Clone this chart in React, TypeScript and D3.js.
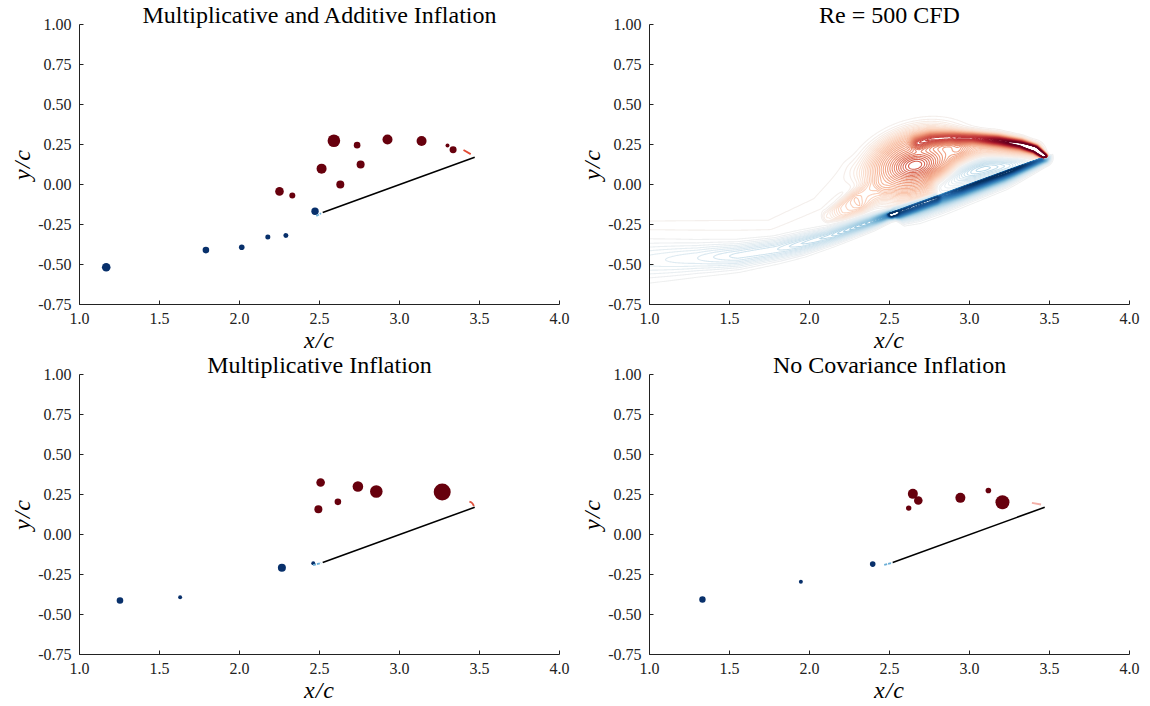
import React, { useMemo } from "react";
import * as d3 from "d3";

const W = 1150;
const H = 706;

// ---------- axes ----------
const xTicks = [1.0, 1.5, 2.0, 2.5, 3.0, 3.5, 4.0];
const yTicks = [1.0, 0.75, 0.5, 0.25, 0.0, -0.25, -0.5, -0.75];
const titles = [
  "Multiplicative and Additive Inflation",
  "Re = 500 CFD",
  "Multiplicative Inflation",
  "No Covariance Inflation",
];

// ---------- plate ----------
const plateX = [2.52, 3.47];
const plateY = [-0.175, 0.17];

// ---------- panel A: multiplicative + additive ----------
const aPosX = [2.59, 2.735, 2.925, 3.138, 3.3, 3.335, 2.513, 2.757, 2.63, 2.25, 2.33];
const aPosY = [0.273, 0.246, 0.281, 0.272, 0.244, 0.217, 0.099, 0.125, 0.0, -0.043, -0.068];
const aPosS = [0.49, 0.134, 0.309, 0.309, 0.049, 0.151, 0.309, 0.198, 0.198, 0.228, 0.111];
const aNegX = [2.472, 2.29, 2.177, 2.014, 1.79, 1.167];
const aNegY = [-0.167, -0.318, -0.328, -0.392, -0.41, -0.517];
const aNegS = [0.169, 0.077, 0.077, 0.097, 0.134, 0.228];
const aLeSheetX = [2.48, 2.51];
const aLeSheetY = [-0.197, -0.18];
const aTeSheetX = [3.4, 3.445];
const aTeSheetY = [0.216, 0.19];

// ---------- panel C: multiplicative ----------
const cPosX = [2.507, 2.74, 2.855, 3.267, 2.615, 2.493];
const cPosY = [0.325, 0.3, 0.269, 0.265, 0.204, 0.158];
const cPosS = [0.228, 0.347, 0.49, 0.892, 0.134, 0.198];
const cNegX = [2.265, 2.461, 1.629, 1.253];
const cNegY = [-0.208, -0.179, -0.392, -0.4125];
const cNegS = [0.198, 0.049, 0.049, 0.134];
const cLeSheetX = [2.46, 2.51];
const cLeSheetY = [-0.192, -0.178];
const cTeSheetX = [3.437, 3.455, 3.465];
const cTeSheetY = [0.206, 0.195, 0.178];

// ---------- panel D: no inflation ----------
const dPosX = [2.646, 2.68, 2.62, 2.943, 3.118, 3.206];
const dPosY = [0.254, 0.2125, 0.165, 0.229, 0.275, 0.202];
const dPosS = [0.309, 0.228, 0.09, 0.309, 0.097, 0.605];
const dNegX = [2.395, 1.946, 1.331];
const dNegY = [-0.185, -0.296, -0.406];
const dNegS = [0.097, 0.049, 0.126];
const dLeSheetX = [2.467, 2.517];
const dLeSheetY = [-0.19, -0.177];
const dTeSheetX = [3.39, 3.447];
const dTeSheetY = [0.198, 0.1875];

// ---------- CFD vorticity features ----------
// trailing-edge shear layer (positive)
const shearX = [3.47, 3.41, 3.32, 3.18, 3.02, 2.88, 2.76, 2.68];
const shearY = [0.176, 0.222, 0.252, 0.276, 0.292, 0.296, 0.288, 0.265];
const shearAmp = [1.7, 1.25, 0.95, 0.8, 0.6, 0.45, 0.36, 0.28];
const shearWid = [0.014, 0.022, 0.028, 0.032, 0.034, 0.036, 0.038, 0.04];
// lower flank of the shear layer (positive)
const flankX = [3.4, 3.15, 2.95];
const flankY = [0.2, 0.232, 0.225];
const flankAmp = [0.28, 0.25, 0.18];
const flankWid = [0.05, 0.065, 0.07];
// shed vortex: broad halo and concentrated core (positive)
const coreX = [2.66, 2.66];
const coreY = [0.13, 0.12];
const coreAmp = [0.42, 0.2];
const coreSx = [0.33, 0.13];
const coreSy = [0.21, 0.075];
const coreAng = [18, 12];
const corePow = [2.0, 1.0];
// vortex tail towards the lower left (positive)
const tailX = [2.42, 2.3, 2.2, 2.12];
const tailY = [-0.04, -0.11, -0.165, -0.2];
const tailAmp = [0.05, 0.26, 0.2, 0.08];
const tailWid = [0.07, 0.07, 0.055, 0.04];
// faint upstream band (positive)
const bandX = [0.9, 1.75, 2.05, 2.25];
const bandY = [-0.26, -0.255, -0.12, 0.08];
const bandAmp = [0.03, 0.03, 0.03, 0.03];
const bandWid = [0.05, 0.05, 0.06, 0.08];
// plate boundary layer, below the plate (negative)
const sheetX = [2.522, 2.56, 2.65, 2.8, 2.95, 3.2, 3.465];
const sheetY = [-0.175, -0.162, -0.129, -0.075, -0.02, 0.071, 0.168];
const sheetAmp = [-1.15, -0.7, -0.68, -0.74, -0.93, -0.92, -0.88];
const sheetWid = [0.025, 0.055, 0.065, 0.065, 0.06, 0.055, 0.03];
// leading-edge vortex (negative)
const leX = [2.54, 2.78];
const leY = [-0.17, -0.085];
const leAmp = [-0.3, -0.26];
const leWid = [0.045, 0.04];
// region above the plate (negative)
const aboveX = [2.82, 2.95, 3.1, 3.25, 3.38];
const aboveY = [0.0, 0.07, 0.105, 0.125, 0.16];
const aboveAmp = [-0.24, -0.3, -0.28, -0.22, -0.1];
const aboveWid = [0.06, 0.07, 0.07, 0.06, 0.04];
// leading-edge wake (negative)
const wakeX = [2.5, 2.38, 2.25, 2.12, 1.95, 1.8, 1.55, 1.3, 0.9];
const wakeY = [-0.19, -0.235, -0.28, -0.325, -0.37, -0.405, -0.445, -0.46, -0.48];
const wakeAmp = [-0.7, -0.42, -0.34, -0.27, -0.24, -0.2, -0.19, -0.14, -0.1];
const wakeWid = [0.025, 0.035, 0.04, 0.045, 0.055, 0.06, 0.07, 0.085, 0.115];

const levelStep = 0.02;
const levelCount = 50;

// ---------- layout ----------
const colX = [79.5, 649.5];
const rowY = [24.5, 374.5];
const plotW = 480;
const plotH = 280;
const serif = "'Liberation Serif', 'Times New Roman', serif";

type Poly = { xs: number[]; ys: number[]; amp: number[]; wid: number[]; up: number; pw: number };

function polyValue(p: Poly, x: number, y: number) {
  let best = Infinity, ba = 0, bw = 1, side = 0;
  for (let k = 0; k < p.xs.length - 1; k++) {
    const x1 = p.xs[k], y1 = p.ys[k], x2 = p.xs[k + 1], y2 = p.ys[k + 1];
    const dx = x2 - x1, dy = y2 - y1;
    const L2 = dx * dx + dy * dy;
    let t = ((x - x1) * dx + (y - y1) * dy) / L2;
    t = t < 0 ? 0 : t > 1 ? 1 : t;
    const px = x1 + t * dx - x, py = y1 + t * dy - y;
    const d2 = px * px + py * py;
    if (d2 < best) {
      best = d2;
      ba = p.amp[k] + t * (p.amp[k + 1] - p.amp[k]);
      bw = p.wid[k] + t * (p.wid[k + 1] - p.wid[k]);
      side = dx * (y - y1) - dy * (x - x1);
    }
  }
  if (side > 0) bw *= p.up;
  const q = best / (bw * bw);
  return ba * Math.exp(-Math.pow(q, p.pw));
}

const polys: Poly[] = [
  { xs: shearX, ys: shearY, amp: shearAmp, wid: shearWid, up: 1, pw: 1 },
  { xs: flankX, ys: flankY, amp: flankAmp, wid: flankWid, up: 1, pw: 1 },
  { xs: tailX, ys: tailY, amp: tailAmp, wid: tailWid, up: 1, pw: 1.8 },
  { xs: bandX, ys: bandY, amp: bandAmp, wid: bandWid, up: 1, pw: 1 },
  { xs: sheetX, ys: sheetY, amp: sheetAmp, wid: sheetWid, up: 0.04, pw: 1 },
  { xs: leX, ys: leY, amp: leAmp, wid: leWid, up: 0.7, pw: 2 },
  { xs: aboveX, ys: aboveY, amp: aboveAmp, wid: aboveWid, up: 1, pw: 1 },
  { xs: wakeX, ys: wakeY, amp: wakeAmp, wid: wakeWid, up: 1, pw: 1 },
];

function field(x: number, y: number) {
  let v = 0;
  for (const p of polys) v += polyValue(p, x, y);
  for (let i = 0; i < coreX.length; i++) {
    const a = (coreAng[i] * Math.PI) / 180;
    const c = Math.cos(a), s = Math.sin(a);
    const dx = x - coreX[i], dy = y - coreY[i];
    const u = dx * c + dy * s, w = -dx * s + dy * c;
    const q = (u * u) / (coreSx[i] * coreSx[i]) + (w * w) / (coreSy[i] * coreSy[i]);
    v += coreAmp[i] * Math.exp(-Math.pow(q, corePow[i]));
  }
  return v;
}

function makeScales(col: number, row: number) {
  const x = d3.scaleLinear().domain([1, 4]).range([colX[col], colX[col] + plotW]);
  const y = d3.scaleLinear().domain([-0.75, 1]).range([rowY[row] + plotH, rowY[row]]);
  return { x, y };
}

function Axes({ col, row, title }: { col: number; row: number; title: string }) {
  const { x, y } = makeScales(col, row);
  const x0 = colX[col], y0 = rowY[row], yb = y0 + plotH;
  return (
    <g fontFamily={serif} fill="#222">
      <line x1={x0} x2={x0} y1={y0} y2={yb} stroke="#222" strokeWidth={1} />
      <line x1={x0} x2={x0 + plotW} y1={yb} y2={yb} stroke="#222" strokeWidth={1} />
      {xTicks.map((t) => (
        <g key={"x" + t}>
          <line x1={x(t)} x2={x(t)} y1={yb} y2={yb - 4} stroke="#222" />
          <text x={x(t)} y={yb + 14} textAnchor="middle" dominantBaseline="central" fontSize={16}>
            {t.toFixed(1)}
          </text>
        </g>
      ))}
      {yTicks.map((t) => (
        <g key={"y" + t}>
          <line x1={x0} x2={x0 + 4} y1={y(t)} y2={y(t)} stroke="#222" />
          <text x={x0 - 8} y={y(t)} textAnchor="end" dominantBaseline="central" fontSize={16}>
            {t.toFixed(2)}
          </text>
        </g>
      ))}
      <text x={x0 + plotW / 2} y={y0 - 2} textAnchor="middle" fontSize={24} fill="#000">
        {title}
      </text>
      <text x={x0 + plotW / 2} y={yb + 43} textAnchor="middle" fontSize={24} fontStyle="italic" fill="#000" letterSpacing={1}>
        x/c
      </text>
      <text
        transform={`translate(${x0 - 58},${y0 + plotH / 2}) rotate(-90)`}
        textAnchor="middle"
        dominantBaseline="central"
        fontSize={24}
        fontStyle="italic"
        fill="#000"
        letterSpacing={1}
      >
        y/c
      </text>
    </g>
  );
}

const posColor = "#67000d";
const negColor = "#08306b";
const rScale = d3.scaleSqrt().domain([0, 1]).range([0, 9]);

function Scatter(props: {
  col: number; row: number; title: string;
  px: number[]; py: number[]; ps: number[];
  nx: number[]; ny: number[]; ns: number[];
  lx: number[]; ly: number[]; tx: number[]; ty: number[]; teColor: string;
}) {
  const { x, y } = makeScales(props.col, props.row);
  const mk = (xs: number[], ys: number[]) =>
    d3.line<number>().x((d) => x(d)).y((_, i) => y(ys[i])).curve(d3.curveMonotoneX)(xs) || "";
  return (
    <g>
      <Axes col={props.col} row={props.row} title={props.title} />
      {props.nx.map((v, i) => (
        <circle key={"n" + i} cx={x(v)} cy={y(props.ny[i])} r={rScale(props.ns[i])} fill={negColor} />
      ))}
      {props.px.map((v, i) => (
        <circle key={"p" + i} cx={x(v)} cy={y(props.py[i])} r={rScale(props.ps[i])} fill={posColor} />
      ))}
      <path d={mk(props.lx, props.ly)} stroke="#6baed6" strokeWidth={1.8} fill="none" strokeDasharray="3 1" />
      <path d={mk(props.tx, props.ty)} stroke={props.teColor} strokeWidth={1.8} fill="none" />
      <line x1={x(plateX[0])} y1={y(plateY[0])} x2={x(plateX[1])} y2={y(plateY[1])} stroke="#000" strokeWidth={1.6} />
    </g>
  );
}

function CFD() {
  const col = 1, row = 0;
  const { x, y } = makeScales(col, row);
  const pad = 3;
  const nx = plotW + 2 * pad + 1;
  const ny = plotH + 2 * pad + 1;
  const ox = colX[col] - pad;
  const oy = rowY[row] - pad;
  const paths = useMemo(() => {
    const vals = new Float64Array(nx * ny);
    for (let j = 0; j < ny; j++) {
      const yy = y.invert(oy + j);
      for (let i = 0; i < nx; i++) {
        vals[j * nx + i] = field(x.invert(ox + i), yy);
      }
    }
    // weakest levels first so that strong colours end up on top
    const levels: number[] = [];
    for (let k = 1; k <= levelCount; k++) {
      levels.push(-k * levelStep);
      levels.push(k * levelStep);
    }
    const proj = d3.geoIdentity().translate([ox - 0.5, oy - 0.5]);
    const gp = d3.geoPath(proj as any);
    const arr = Array.from(vals);
    const gen = d3.contours().size([nx, ny]);
    return levels.map((lv) => ({
      d: gp(gen.contour(arr, lv) as any) || "",
      color: d3.interpolateRdBu(0.5 - lv / (2 * levelStep * levelCount)),
    }));
  }, []);
  return (
    <g>
      <defs>
        <clipPath id="cfdclip">
          <rect x={colX[col]} y={rowY[row]} width={plotW} height={plotH} />
        </clipPath>
      </defs>
      <g clipPath="url(#cfdclip)">
        {paths.map((p, i) => (
          <path key={i} d={p.d} fill="none" stroke={p.color} strokeWidth={1.1} />
        ))}
      </g>
      <Axes col={col} row={row} title={titles[1]} />
    </g>
  );
}

export default function App() {
  return (
    <svg
      width={W}
      height={H}
      viewBox={`0 0 ${W} ${H}`}
      style={{ display: "block", position: "absolute", left: 0, top: 0, background: "#fff" }}
    >
      <rect x={0} y={0} width={W} height={H} fill="#fff" />
      <Scatter col={0} row={0} title={titles[0]}
        px={aPosX} py={aPosY} ps={aPosS} nx={aNegX} ny={aNegY} ns={aNegS}
        lx={aLeSheetX} ly={aLeSheetY} tx={aTeSheetX} ty={aTeSheetY} teColor="#e34a33" />
      <CFD />
      <Scatter col={0} row={1} title={titles[2]}
        px={cPosX} py={cPosY} ps={cPosS} nx={cNegX} ny={cNegY} ns={cNegS}
        lx={cLeSheetX} ly={cLeSheetY} tx={cTeSheetX} ty={cTeSheetY} teColor="#e0533f" />
      <Scatter col={1} row={1} title={titles[3]}
        px={dPosX} py={dPosY} ps={dPosS} nx={dNegX} ny={dNegY} ns={dNegS}
        lx={dLeSheetX} ly={dLeSheetY} tx={dTeSheetX} ty={dTeSheetY} teColor="#f4b0a8" />
    </svg>
  );
}
